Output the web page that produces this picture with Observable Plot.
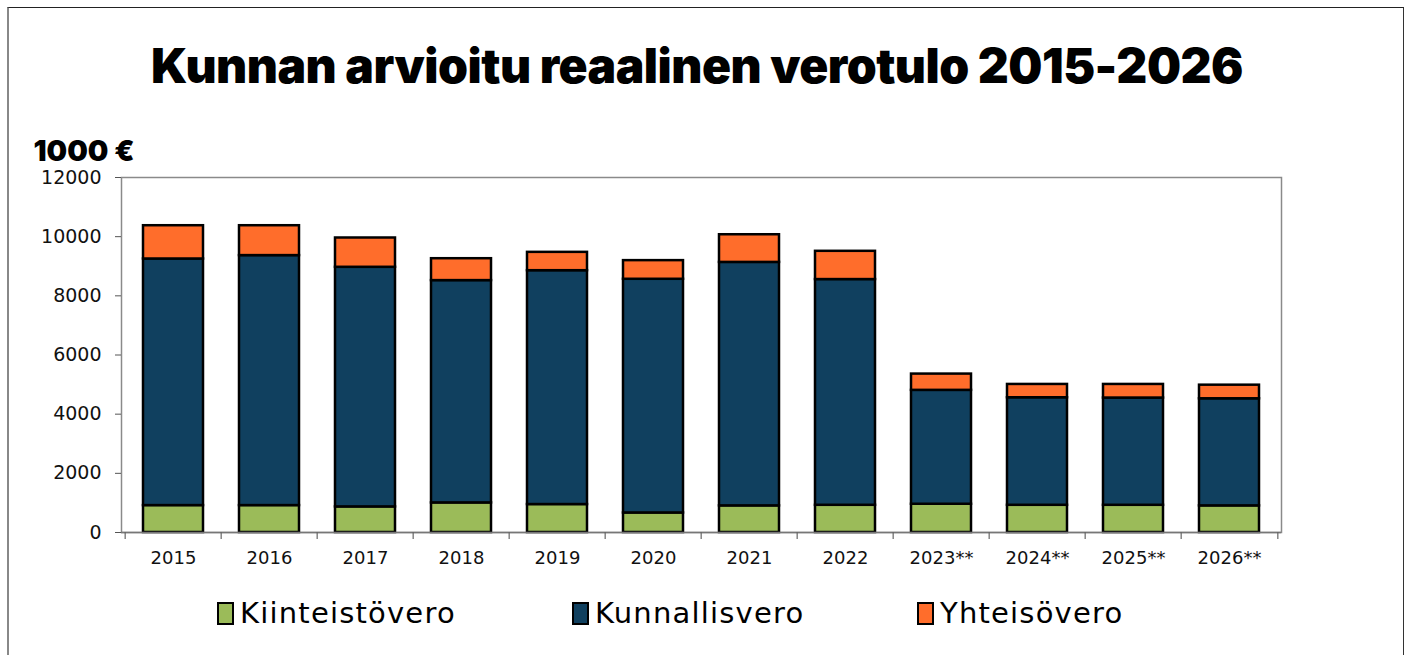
<!DOCTYPE html>
<html><head><meta charset="utf-8">
<script src="https://cdn.jsdelivr.net/npm/d3@7"></script>
<script src="https://cdn.jsdelivr.net/npm/@observablehq/plot@0.6"></script>
<style>
body{margin:0;background:#fff;}
#wrap{position:relative;width:1407px;height:655px;overflow:hidden;background:#fff;}
#frame{position:absolute;left:7px;top:7px;width:1397px;height:700px;border-top:1px solid #222;border-right:1px solid #333;border-left:2px solid #888;box-sizing:border-box;}
#title{position:absolute;top:36px;left:0;width:1394px;text-align:center;font-family:Inter,sans-serif;font-weight:900;font-size:48px;line-height:60px;color:#000;letter-spacing:-0.5px;}
#chart{position:absolute;top:120px;left:0;}
.leg{position:absolute;top:596px;display:flex;align-items:center;font-family:'DejaVu Sans',sans-serif;font-size:29px;letter-spacing:1.2px;color:#000;}
.sw{width:13px;height:19px;border:2px solid #000;margin-right:6px;box-sizing:content-box;}
</style></head>
<body><div id="wrap"><div id="frame"></div><div id="title">Kunnan arvioitu reaalinen verotulo 2015-2026</div><div id="chart"></div><div id="legendbox"></div></div>
<script>
const years = ["2015","2016","2017","2018","2019","2020","2021","2022","2023**","2024**","2025**","2026**"];
const kiinteistovero = [910, 910, 865, 1000, 945, 660, 900, 920, 955, 920, 920, 900];
const kunnallisvero = [8335, 8450, 8100, 7515, 7905, 7900, 8230, 7630, 3850, 3635, 3625, 3620];
const yhteisovero = [1125, 1010, 990, 740, 620, 630, 935, 955, 550, 450, 460, 460];
const seriesNames = ["Kiinteistövero", "Kunnallisvero", "Yhteisövero"];
const seriesColors = ["#9BBB59", "#10405F", "#FF6D2B"];
const yTicks = [0, 2000, 4000, 6000, 8000, 10000, 12000];
const yLabel = "1000 €";

const seriesValues = [kiinteistovero, kunnallisvero, yhteisovero];
const data = years.flatMap((year, i) => seriesNames.map((s, j) => ({year, series: s, value: seriesValues[j][i]})));

const W = 1407, H = 460, mL = 121, mR = 126, mT = 57, mB = 48;
const step = (W - mL - mR) / years.length;

const chart = Plot.plot({
  width: W, height: H, marginTop: mT, marginBottom: mB, marginLeft: mL, marginRight: mR,
  style: {fontFamily: "'DejaVu Sans', sans-serif", fontSize: "19px", color: "#111", background: "transparent"},
  x: {domain: years, paddingInner: 0.37, paddingOuter: 0.185, label: null},
  y: {domain: [0, 12000], label: null},
  color: {domain: seriesNames, range: seriesColors},
  marks: [
    Plot.frame({stroke: "#8a8a8a", strokeWidth: 1.5}),
    Plot.barY(data, {x: "year", y: "value", fill: "series", z: "series", order: seriesNames, stroke: "#000", strokeWidth: 2.5}),
    Plot.ruleY([0], {stroke: "#777", strokeWidth: 1.5}),
    Plot.axisY({ticks: yTicks, tickFormat: d => String(d), tickSize: 6, tickPadding: 14, stroke: "#555", fontSize: 19, label: null}),
    Plot.axisX({tickSize: 0, tickPadding: 19, fontSize: 18, label: null}),
    Plot.ruleX(years, {x: d => d, dx: -step / 2, y1: 0, y2: 0, insetTop: 7, stroke: "#666", strokeWidth: 1.2}),
    Plot.ruleX([years[years.length - 1]], {x: d => d, dx: step / 2, y1: 0, y2: 0, insetTop: 7, stroke: "#666", strokeWidth: 1.2}),
    Plot.text([yLabel], {text: d => d, frameAnchor: "top-left", textAnchor: "start", lineAnchor: "middle", dx: -88, dy: -26, fontSize: 29, fontWeight: 900, fontFamily: "Inter, sans-serif", fill: "#000"})
  ]
});
document.getElementById("chart").appendChild(chart);

const legX = [217, 572, 917];
const lb = document.getElementById("legendbox");
seriesNames.forEach((s, i) => {
  const d = document.createElement("div");
  d.className = "leg";
  d.style.left = legX[i] + "px";
  d.innerHTML = `<span class="sw" style="background:${seriesColors[i]}"></span><span>${s}</span>`;
  lb.appendChild(d);
});
</script>
</body></html>
